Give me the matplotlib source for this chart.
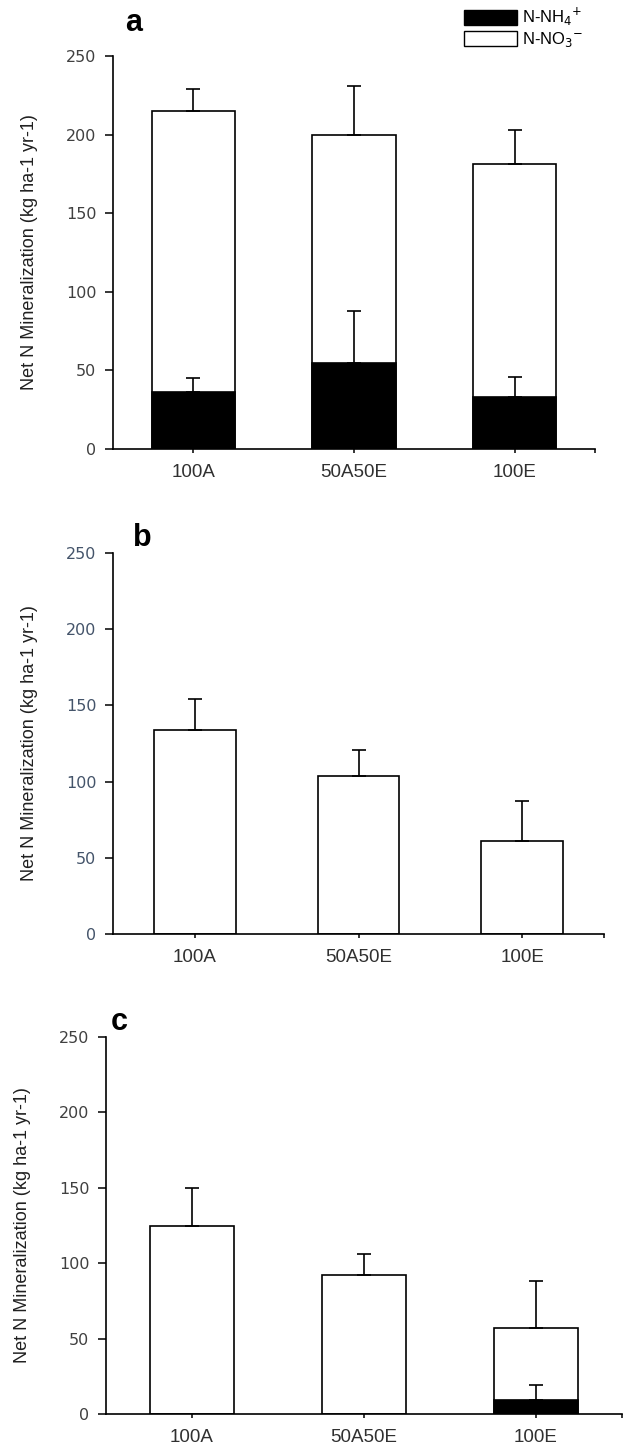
import matplotlib
matplotlib.use("Agg")
import matplotlib.pyplot as plt
from matplotlib.patches import Patch

categories = ["100A", "50A50E", "100E"]

# panel a
a_nh4 = [36, 55, 33]
a_nh4_err = [9, 33, 13]
a_no3 = [179, 145, 148]
a_tot_err = [14, 31, 22]

# panel b
b_nh4 = [0, 0, 0]
b_nh4_err = [0, 0, 0]
b_no3 = [134, 104, 61]
b_tot_err = [20, 17, 26]

# panel c
c_nh4 = [0, 0, 9]
c_nh4_err = [0, 0, 10]
c_no3 = [125, 92, 48]
c_tot_err = [25, 14, 31]

yticks = [0, 50, 100, 150, 200, 250]
ylabel = "Net N Mineralization (kg ha-1 yr-1)"

W, H = 630, 1452
fig = plt.figure(figsize=(W / 100, H / 100), dpi=100)


def px_axes(left, right, top, bottom):
    return fig.add_axes([left / W, 1 - bottom / H, (right - left) / W, (bottom - top) / H])


def draw_panel(ax, nh4, nh4_err, no3, tot_err, letter, ytick_color, bar_w):
    x = list(range(len(categories)))
    tot = [n + o for n, o in zip(nh4, no3)]
    ax.bar(x, tot, width=bar_w, color="white", edgecolor="black", linewidth=1.2, zorder=2)
    ax.errorbar(x, tot, yerr=[[0] * 3, tot_err], fmt="none", ecolor="black",
                elinewidth=1.2, capsize=5, capthick=1.2, zorder=3)
    xs = [i for i in x if nh4[i] > 0]
    if xs:
        ax.bar(xs, [nh4[i] for i in xs], width=bar_w, color="black",
               edgecolor="black", linewidth=1.2, zorder=4)
        ax.errorbar(xs, [nh4[i] for i in xs], yerr=[[0] * len(xs), [nh4_err[i] for i in xs]],
                    fmt="none", ecolor="black", elinewidth=1.2, capsize=5, capthick=1.2, zorder=5)
    ax.set_xlim(-0.5, 2.5)
    ax.set_ylim(0, 250)
    ax.set_yticks(yticks)
    ax.set_yticklabels([str(v) for v in yticks], fontfamily="DejaVu Sans", fontsize=11.5,
                       color=ytick_color)
    ax.set_xticks([0, 1, 2, 2.5])
    ax.set_xticklabels(categories + [""], fontfamily="Liberation Sans", fontsize=13.5,
                       color="#303030")
    ax.tick_params(axis="y", direction="out", length=6, width=1.1, pad=6)
    ax.tick_params(axis="x", direction="out", length=3, width=1.1, pad=8)
    for s in ["top", "right"]:
        ax.spines[s].set_visible(False)
    for s in ["left", "bottom"]:
        ax.spines[s].set_linewidth(1.2)
        ax.spines[s].set_color("black")
    ax.set_ylabel(ylabel, fontfamily="Liberation Sans", fontsize=13, color="#202020", labelpad=20)
    ax.text(0.04, 1.0, letter, transform=ax.transAxes, fontfamily="Liberation Sans",
            fontsize=22, fontweight="bold", ha="left", va="bottom")


ax_a = px_axes(113, 595, 56, 449)
draw_panel(ax_a, a_nh4, a_nh4_err, a_no3, a_tot_err, "a", "#404040", 0.52)
ax_a.texts[-1].set_position((0.025, 1.045))

ax_b = px_axes(113, 604, 553, 934)
draw_panel(ax_b, b_nh4, b_nh4_err, b_no3, b_tot_err, "b", "#44546A", 0.5)

ax_c = px_axes(106, 622, 1037, 1414)
draw_panel(ax_c, c_nh4, c_nh4_err, c_no3, c_tot_err, "c", "#404040", 0.49)
ax_c.texts[-1].set_position((0.01, 1.0))

handles = [Patch(facecolor="black", edgecolor="black", linewidth=1.0),
           Patch(facecolor="white", edgecolor="black", linewidth=1.0)]
fig.legend(handles, ["N-NH$_4$$^{+}$", "N-NO$_3$$^{-}$"], loc="upper left",
           bbox_to_anchor=(449 / W, 1 + 9 / H), frameon=False,
           handlelength=3.2, handleheight=1.05, handletextpad=0.25, labelspacing=0.1,
           prop={"family": "Liberation Sans", "size": 12})

fig.savefig("out.png", dpi=100)
